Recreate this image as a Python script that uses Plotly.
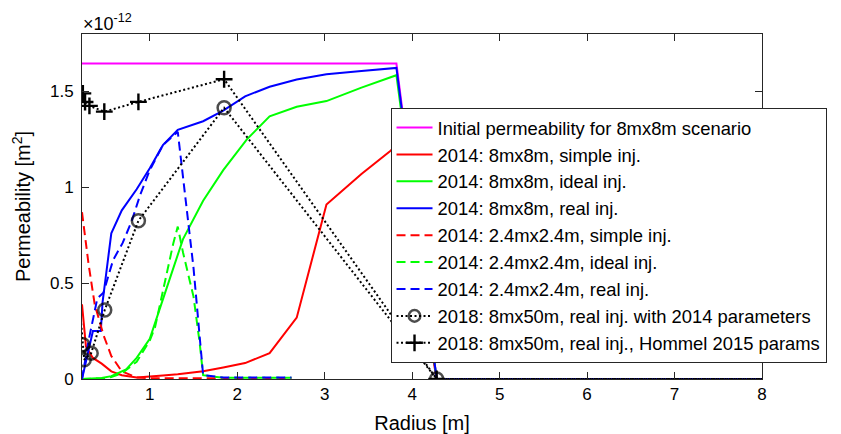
import plotly.graph_objects as go

SCALE = 1e-12

# ---- data (permeability in units of 1e-12 m^2) ----
init_x = [0.225, 3.82, 4.28, 8.0]
init_y = [1.646, 1.646, 0.0, 0.0]

s8_simple_x = [0.225, 0.27, 0.35, 0.45, 0.56, 0.68, 0.85, 1.0, 1.15, 1.32, 1.61, 1.84, 2.09, 2.37, 2.68, 3.02, 3.42, 3.75, 3.82, 4.28, 8.0]
s8_simple_y = [0.39, 0.17, 0.11, 0.08, 0.04, 0.02, 0.008, 0.012, 0.018, 0.025, 0.04, 0.06, 0.083, 0.135, 0.32, 0.91, 1.07, 1.19, 1.22, 0.0, 0.0]

s8_ideal_x = [0.225, 0.45, 0.56, 0.73, 0.85, 1.0, 1.19, 1.38, 1.61, 1.84, 2.11, 2.37, 2.68, 3.02, 3.42, 3.82, 4.28, 8.0]
s8_ideal_y = [0.0, 0.005, 0.015, 0.05, 0.11, 0.21, 0.47, 0.73, 0.93, 1.09, 1.25, 1.37, 1.42, 1.45, 1.52, 1.585, 0.0, 0.0]

s8_real_x = [0.225, 0.35, 0.44, 0.46, 0.56, 0.68, 0.85, 1.0, 1.15, 1.32, 1.61, 1.84, 2.09, 2.37, 2.68, 3.02, 3.42, 3.82, 4.28, 8.0]
s8_real_y = [0.0, 0.25, 0.25, 0.40, 0.76, 0.88, 0.99, 1.10, 1.22, 1.30, 1.345, 1.40, 1.475, 1.525, 1.5625, 1.59, 1.607, 1.623, 0.0, 0.0]

s24_simple_x = [0.225, 0.30, 0.37, 0.47, 0.56, 0.68, 0.85, 1.0, 1.32, 1.61, 1.84, 2.09, 2.37, 2.62]
s24_simple_y = [0.87, 0.60, 0.39, 0.23, 0.12, 0.04, 0.008, 0.004, 0.004, 0.004, 0.004, 0.004, 0.004, 0.004]

s24_ideal_x = [0.225, 0.45, 0.56, 0.68, 0.85, 1.0, 1.06, 1.17, 1.27, 1.32, 1.38, 1.50, 1.57, 1.61, 1.84, 2.09, 2.37, 2.62]
s24_ideal_y = [0.0, 0.003, 0.01, 0.03, 0.09, 0.20, 0.27, 0.50, 0.71, 0.795, 0.66, 0.43, 0.19, 0.02, 0.006, 0.006, 0.006, 0.006]

s24_real_x = [0.225, 0.30, 0.40, 0.47, 0.58, 0.69, 0.79, 0.89, 1.0, 1.15, 1.32, 1.41, 1.50, 1.61, 1.84, 2.09, 2.37, 2.62]
s24_real_y = [0.0, 0.20, 0.42, 0.45, 0.62, 0.71, 0.82, 0.96, 1.09, 1.22, 1.29, 0.93, 0.58, 0.02, 0.008, 0.008, 0.008, 0.008]

r18_2014_x = [0.215, 0.235, 0.25, 0.33, 0.485, 0.87, 1.85, 4.28, 50.0]
r18_2014_y = [0.29, 0.179, 0.10, 0.135, 0.36, 0.826, 1.415, 0.0, 0.0]

r18_hommel_x = [0.235, 0.26, 0.31, 0.48, 0.87, 1.85, 4.28, 50.0]
r18_hommel_y = [1.49, 1.445, 1.425, 1.395, 1.446, 1.564, 0.0, 0.0]

names = [
    "Initial permeability for 8mx8m scenario",
    "2014: 8mx8m, simple inj.",
    "2014: 8mx8m, ideal inj.",
    "2014: 8mx8m, real inj.",
    "2014: 2.4mx2.4m, simple inj.",
    "2014: 2.4mx2.4m, ideal inj.",
    "2014: 2.4mx2.4m, real inj.",
    "2018: 8mx50m, real inj. with 2014 parameters",
    "2018: 8mx50m, real inj., Hommel 2015 params",
]

x_ticks = [1, 2, 3, 4, 5, 6, 7, 8]
y_ticks = [0, 0.5, 1, 1.5]
y_ticktext = ["0", "0.5", "1", "1.5"]

# ---- figure ----
FONT = "Liberation Sans, Arial, Helvetica, sans-serif"
DASH = "9px,5px"
DOT = "2px,2.5px"

fig = go.Figure()

def add_line(x, y, name, color, dash="solid", width=2):
    fig.add_trace(go.Scatter(
        x=x, y=[v * SCALE for v in y], name=name, mode="lines",
        line=dict(color=color, width=width, dash=dash),
    ))

add_line(init_x, init_y, names[0], "#FF00FF")
add_line(s8_simple_x, s8_simple_y, names[1], "#FF0000")
add_line(s8_ideal_x, s8_ideal_y, names[2], "#00FF00")
add_line(s8_real_x, s8_real_y, names[3], "#0000FF")
add_line(s24_simple_x, s24_simple_y, names[4], "#FF0000", DASH)
add_line(s24_ideal_x, s24_ideal_y, names[5], "#00FF00", DASH)
add_line(s24_real_x, s24_real_y, names[6], "#0000FF", DASH)

circle_sizes = [0] + [13] * (len(r18_2014_x) - 1)
fig.add_trace(go.Scatter(
    x=r18_2014_x, y=[v * SCALE for v in r18_2014_y], name=names[7],
    mode="lines+markers",
    line=dict(color="black", width=2, dash=DOT),
    marker=dict(symbol="circle-open", size=circle_sizes, color="black",
                line=dict(width=2.5, color="#000000")),
))
fig.add_trace(go.Scatter(
    x=r18_hommel_x, y=[v * SCALE for v in r18_hommel_y], name=names[8],
    mode="lines+markers",
    line=dict(color="black", width=2, dash=DOT),
    marker=dict(symbol="cross-thin-open", size=12, color="black",
                line=dict(width=2.4, color="black")),
))

axis_common = dict(
    showline=True, linecolor="#262626", linewidth=1, mirror="ticks",
    ticks="inside", ticklen=7, tickwidth=1, tickcolor="#262626",
    showgrid=False, zeroline=False, automargin=False,
    tickfont=dict(family=FONT, size=17, color="black"),
)

fig.update_layout(
    width=841, height=434,
    margin=dict(l=82, r=79, t=34, b=55),
    paper_bgcolor="white", plot_bgcolor="white",
    font=dict(family=FONT, color="black"),
    xaxis=dict(range=[0.225, 8], tickvals=x_ticks,
               title=dict(text="Radius [m]", font=dict(size=20, family=FONT), standoff=15),
               **axis_common),
    yaxis=dict(range=[0, 1.8 * SCALE], tickvals=[t * SCALE for t in y_ticks], ticktext=y_ticktext,
               ticklabelstandoff=4,
               title=dict(text="Permeability [m<sup>2</sup>]", font=dict(size=20, family=FONT), standoff=13),
               **axis_common),
    legend=dict(x=0.4537, y=0.7855, xanchor="left", yanchor="top",
                bgcolor="white", bordercolor="#262626", borderwidth=1,
                font=dict(family=FONT, size=18.4, color="black"),
                itemwidth=36),
    showlegend=True,
    annotations=[dict(
        text="×10<sup>-12</sup>", xref="paper", yref="paper", x=0, y=1,
        xanchor="left", yanchor="bottom", showarrow=False,
        font=dict(family=FONT, size=18, color="black"), xshift=-1, yshift=-2,
    )],
)

fig.write_html("out.html")
